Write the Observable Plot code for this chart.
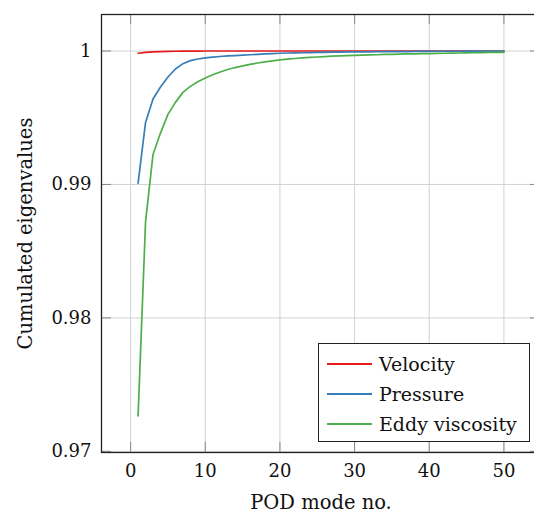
<!DOCTYPE html>
<html>
<head>
<meta charset="utf-8">
<script src="https://cdn.jsdelivr.net/npm/d3@7"></script>
<script src="https://cdn.jsdelivr.net/npm/@observablehq/plot@0.6"></script>
<style>
  html, body { margin: 0; padding: 0; background: #fff; overflow: hidden; width: 534px; height: 512px; }
  #wrap { position: relative; width: 534px; height: 512px; overflow: hidden; }
  #chart { width: 560px; }
  #chart svg { max-width: none !important; display: block; }
  #chart svg, #chart svg text { font-family: "DejaVu Serif", serif !important; }
  #chart g[aria-label="x-axis label"], #chart g[aria-label="y-axis label"] { font-size: 19.5px; }
  #legend { position: absolute; left: 318px; top: 343px; width: 212px; height: 99px; border: 1px solid #222; background: #fff; box-sizing: border-box; font-family: "DejaVu Serif", serif; font-size: 19px; color: #111; }
  .row { position: absolute; left: 0; height: 30px; display: flex; align-items: center; white-space: nowrap; }
  .sw { width: 45px; height: 0; border-top: 2px solid; margin-left: 8px; margin-right: 7px; }
</style>
</head>
<body>
<div id="wrap"><div id="chart"></div><div id="legend"></div></div>
<script>
// POD mode numbers
const modes = d3.range(1, 51);
const seriesNames = ["Velocity", "Pressure", "Eddy viscosity"];
const seriesColors = ["#e41a1c", "#377eb8", "#4daf4a"];
const xTicks = [0, 10, 20, 30, 40, 50];
const yTicks = [0.97, 0.98, 0.99, 1];

const velocity = [
  0.99983, 0.99989, 0.99993, 0.99995, 0.99997, 0.99998, 0.99999, 0.99999, 0.99999, 1.0,
  1.0, 1.0, 1.0, 1.0, 1.0, 1.0, 1.0, 1.0, 1.0, 1.0,
  1.0, 1.0, 1.0, 1.0, 1.0, 1.0, 1.0, 1.0, 1.0, 1.0,
  1.0, 1.0, 1.0, 1.0, 1.0, 1.0, 1.0, 1.0, 1.0, 1.0,
  1.0, 1.0, 1.0, 1.0, 1.0, 1.0, 1.0, 1.0, 1.0, 1.0
];
const pressure = [
  0.99010, 0.99465, 0.99640, 0.99730, 0.99805, 0.99865, 0.99905, 0.99928, 0.99940, 0.99948,
  0.99954, 0.99959, 0.99963, 0.99966, 0.99969, 0.99972, 0.99975, 0.99978, 0.99981, 0.99983,
  0.99985, 0.99986, 0.99987, 0.99988, 0.99989, 0.99990, 0.99991, 0.99992, 0.99993, 0.99993,
  0.99994, 0.99994, 0.99995, 0.99995, 0.99996, 0.99996, 0.99996, 0.99997, 0.99997, 0.99997,
  0.99998, 0.99998, 0.99998, 0.99998, 0.99999, 0.99999, 0.99999, 0.99999, 0.99999, 0.99999
];
const eddyViscosity = [
  0.97265, 0.98720, 0.99225, 0.99385, 0.99525, 0.99615, 0.99690, 0.99735, 0.99770, 0.99798,
  0.99822, 0.99843, 0.99861, 0.99876, 0.99889, 0.99900, 0.99910, 0.99918, 0.99926, 0.99933,
  0.99939, 0.99944, 0.99948, 0.99952, 0.99955, 0.99958, 0.99961, 0.99963, 0.99965, 0.99967,
  0.99969, 0.99971, 0.99972, 0.99974, 0.99975, 0.99977, 0.99978, 0.99979, 0.99980, 0.99981,
  0.99982, 0.99983, 0.99984, 0.99985, 0.99986, 0.99987, 0.99988, 0.99989, 0.99989, 0.99990
];

const seriesValues = [velocity, pressure, eddyViscosity];
const data = [];
seriesNames.forEach((name, i) => {
  modes.forEach((m, j) => data.push({mode: m, value: seriesValues[i][j], series: name}));
});

// pgfplots-style 10% enlargement of limits
const xExt = d3.extent(modes);
const yExt = d3.extent(data, d => d.value);
const xPad = 0.1 * (xExt[1] - xExt[0]);
const yPad = 0.1 * (yExt[1] - yExt[0]);
const xDomain = [xExt[0] - xPad, xExt[1] + xPad];
const yDomain = [yExt[0] - yPad, yExt[1] + yPad];

const W = 560, H = 512;
const mL = 101, mR = 20, mT = 14, mB = 60;
const plotW = W - mL - mR, plotH = H - mT - mB;
const tickLen = 10;

const chart = Plot.plot({
  width: W, height: H,
  marginLeft: mL, marginRight: mR, marginTop: mT, marginBottom: mB,
  style: {fontFamily: "'DejaVu Serif', serif", fontSize: "18px", color: "#111", background: "#fff", maxWidth: "none"},
  x: {domain: xDomain},
  y: {domain: yDomain},
  color: {domain: seriesNames, range: seriesColors},
  marks: [
    Plot.gridX(xTicks, {stroke: "#d2d2d2", strokeOpacity: 1, strokeWidth: 1}),
    Plot.gridY(yTicks, {stroke: "#d2d2d2", strokeOpacity: 1, strokeWidth: 1}),
    // inward tick marks
    Plot.ruleX(xTicks, {x: d => d, insetTop: plotH - tickLen, stroke: "#888", strokeWidth: 1}),
    Plot.ruleX(xTicks, {x: d => d, insetBottom: plotH - tickLen, stroke: "#888", strokeWidth: 1}),
    Plot.ruleY(yTicks, {y: d => d, insetRight: plotW - tickLen, stroke: "#888", strokeWidth: 1}),
    Plot.ruleY(yTicks, {y: d => d, insetLeft: plotW - tickLen, stroke: "#888", strokeWidth: 1}),
    Plot.line(data, {x: "mode", y: "value", z: "series", stroke: "series", strokeWidth: 1.7}),
    Plot.axisX({ticks: xTicks, tickSize: 0, tickPadding: 12, label: "POD mode no.", labelAnchor: "center", labelArrow: "none", labelOffset: 56}),
    Plot.axisY({ticks: yTicks, tickSize: 0, tickPadding: 10, tickFormat: d => d === 1 ? "1" : d3.format(".2f")(d), label: "Cumulated eigenvalues", labelAnchor: "center", labelArrow: "none", labelOffset: 83}),
    Plot.frame({stroke: "#222", strokeWidth: 1.3})
  ]
});
document.getElementById("chart").appendChild(chart);

// legend
const leg = document.getElementById("legend");
seriesNames.forEach((name, i) => {
  const row = document.createElement("div");
  row.className = "row";
  row.style.top = (5 + i * 30) + "px";
  const sw = document.createElement("div");
  sw.className = "sw";
  sw.style.borderTopColor = seriesColors[i];
  const t = document.createElement("span");
  t.textContent = name;
  row.appendChild(sw); row.appendChild(t);
  leg.appendChild(row);
});
</script>
</body>
</html>
